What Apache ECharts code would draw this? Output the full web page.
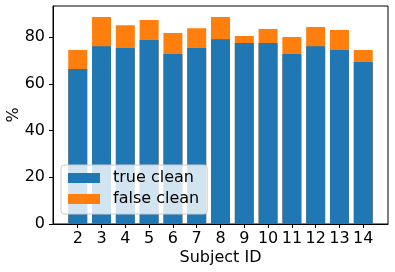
<!DOCTYPE html>
<html><head><meta charset="utf-8">
<script src="https://cdn.jsdelivr.net/npm/echarts@6/dist/echarts.min.js"></script>
<style>html,body{margin:0;padding:0;background:#fff}#c{width:395px;height:272px}</style>
</head><body><div id="c"></div>
<script>
var subjects = [2, 3, 4, 5, 6, 7, 8, 9, 10, 11, 12, 13, 14];
var trueClean = [66.4, 76.2, 75.4, 78.8, 72.8, 75.4, 79.2, 77.5, 77.5, 72.8, 76.2, 74.5, 69.4];
var falseClean = [8.1, 12.5, 9.8, 8.6, 9.0, 8.5, 9.5, 3.0, 6.0, 7.3, 8.2, 8.6, 5.1];
var yTicks = [0, 20, 40, 60, 80];

var font = 'DejaVu Sans';
var chart = echarts.init(document.getElementById('c'), null, {renderer: 'canvas'});
chart.setOption({
  animation: false,
  grid: {left: 53, top: 6, right: 7, bottom: 48, containLabel: false, outerBoundsMode: 'none',
         show: true, borderColor: '#000', borderWidth: 1, backgroundColor: 'transparent'},
  legend: {
    left: 61, top: 165, orient: 'vertical',
    data: ['true clean', 'false clean'],
    itemWidth: 32, itemHeight: 10, itemGap: 5,
    padding: [5, 8, 7, 7],
    backgroundColor: 'rgba(255,255,255,0.8)',
    borderColor: '#cccccc', borderWidth: 1, borderRadius: 3,
    textStyle: {fontFamily: font, fontSize: 16, color: '#000', padding: [0, 0, 0, 8]},
    icon: 'rect'
  },
  xAxis: {
    type: 'value', min: 0.96, max: 15.04,
    name: 'Subject ID', nameLocation: 'middle', nameGap: 26, nameMoveOverlap: false,
    nameTextStyle: {fontFamily: font, fontSize: 16, color: '#000'},
    splitLine: {show: false},
    axisLine: {show: true, onZero: false, lineStyle: {color: '#000', width: 1}},
    axisTick: {show: true, length: 4, lineStyle: {color: '#000'}, customValues: subjects},
    axisLabel: {fontFamily: font, fontSize: 16, color: '#000', margin: 7, customValues: subjects}
  },
  yAxis: {
    type: 'value', min: 0, max: 93.4, interval: 20,
    name: '%', nameLocation: 'middle', nameGap: 31, nameRotate: 90, nameMoveOverlap: false,
    nameTextStyle: {fontFamily: font, fontSize: 16, color: '#000'},
    splitLine: {show: false},
    axisLine: {show: true, lineStyle: {color: '#000', width: 1}},
    axisTick: {show: true, length: 4, lineStyle: {color: '#000'}, customValues: yTicks},
    axisLabel: {fontFamily: font, fontSize: 16, color: '#000', margin: 8, customValues: yTicks}
  },
  series: [
    {name: 'false clean', type: 'bar', barWidth: 19, barGap: '-100%', z: 2,
     itemStyle: {color: '#ff7f0e'},
     data: subjects.map(function (s, i) { return [s, trueClean[i] + falseClean[i]]; })},
    {name: 'true clean', type: 'bar', barWidth: 19, barGap: '-100%', z: 3,
     itemStyle: {color: '#1f77b4'},
     data: subjects.map(function (s, i) { return [s, trueClean[i]]; })}
  ]
});
</script></body></html>
